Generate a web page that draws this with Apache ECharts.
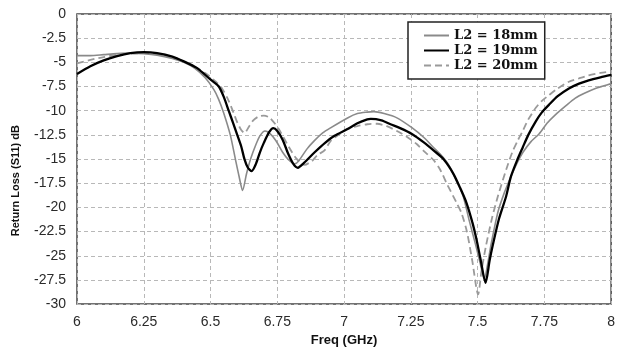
<!DOCTYPE html>
<html>
<head>
<meta charset="utf-8">
<script src="https://cdn.jsdelivr.net/npm/echarts@6/dist/echarts.min.js"></script>
<style>
  html, body { margin: 0; padding: 0; background: #fff; }
  #chart { width: 618px; height: 352px; }
</style>
</head>
<body>
<div id="chart"></div>
<script>
// Return loss (S11) versus frequency for three values of L2
const seriesNames = ['L2 = 18mm', 'L2 = 19mm', 'L2 = 20mm'];

const freqL18 = [6.00, 6.05, 6.10, 6.15, 6.20, 6.25, 6.30, 6.357, 6.40, 6.44, 6.48, 6.512, 6.53, 6.549, 6.574, 6.593, 6.607, 6.62, 6.635, 6.65, 6.67, 6.685, 6.704, 6.72, 6.745, 6.77, 6.79, 6.815, 6.83, 6.86, 6.889, 6.92, 6.951, 7.013, 7.05, 7.087, 7.112, 7.15, 7.198, 7.254, 7.30, 7.335, 7.37, 7.396, 7.42, 7.446, 7.47, 7.493, 7.51, 7.525, 7.54, 7.55, 7.576, 7.60, 7.625, 7.65, 7.67, 7.70, 7.73, 7.76, 7.792, 7.83, 7.866, 7.90, 7.941, 7.97, 8.00];
const s11L18 = [-4.3, -4.3, -4.2, -4.1, -4.05, -4.1, -4.25, -4.6, -5.0, -5.6, -6.6, -7.8, -8.8, -10.2, -12.5, -15.0, -16.8, -18.25, -16.5, -15.0, -13.5, -12.6, -12.1, -12.3, -13.1, -14.3, -15.0, -15.5, -15.2, -14.0, -13.1, -12.3, -11.75, -10.75, -10.3, -10.15, -10.1, -10.3, -10.74, -11.76, -12.8, -13.8, -14.8, -15.8, -17.2, -18.85, -21.5, -23.9, -25.8, -27.4, -25.5, -23.9, -20.5, -18.5, -16.8, -15.3, -14.3, -13.2, -12.4, -11.3, -10.4, -9.5, -8.7, -8.2, -7.7, -7.45, -7.2];

const freqL19 = [6.00, 6.05, 6.10, 6.15, 6.20, 6.25, 6.30, 6.357, 6.40, 6.45, 6.48, 6.51, 6.531, 6.55, 6.568, 6.585, 6.60, 6.615, 6.627, 6.64, 6.654, 6.67, 6.685, 6.70, 6.72, 6.735, 6.75, 6.77, 6.79, 6.81, 6.827, 6.85, 6.89, 6.93, 6.964, 7.013, 7.05, 7.087, 7.10, 7.14, 7.174, 7.21, 7.254, 7.30, 7.335, 7.372, 7.409, 7.435, 7.458, 7.48, 7.495, 7.51, 7.53, 7.545, 7.557, 7.58, 7.607, 7.625, 7.65, 7.669, 7.69, 7.718, 7.74, 7.767, 7.80, 7.842, 7.88, 7.916, 7.96, 8.00];
const s11L19 = [-6.2, -5.4, -4.8, -4.35, -4.05, -3.95, -4.05, -4.4, -4.9, -5.6, -6.3, -7.0, -7.5, -8.6, -10.0, -11.3, -12.5, -13.7, -15.0, -15.9, -16.25, -15.5, -14.3, -13.3, -12.2, -11.8, -12.1, -13.0, -14.4, -15.5, -15.9, -15.4, -14.3, -13.3, -12.6, -11.9, -11.3, -10.9, -10.85, -11.0, -11.4, -11.8, -12.4, -13.3, -14.1, -15.0, -16.5, -18.0, -19.5, -21.5, -23.2, -25.2, -27.8, -25.5, -23.9, -21.2, -18.85, -16.8, -15.0, -13.8, -12.5, -11.1, -10.2, -9.4, -8.5, -7.7, -7.2, -6.86, -6.55, -6.3];

const freqL20 = [6.00, 6.05, 6.10, 6.15, 6.20, 6.25, 6.30, 6.357, 6.40, 6.45, 6.49, 6.52, 6.543, 6.565, 6.586, 6.60, 6.615, 6.627, 6.645, 6.66, 6.68, 6.70, 6.72, 6.74, 6.76, 6.79, 6.82, 6.852, 6.88, 6.90, 6.927, 6.951, 7.013, 7.05, 7.087, 7.124, 7.16, 7.198, 7.235, 7.272, 7.30, 7.335, 7.36, 7.384, 7.421, 7.44, 7.46, 7.48, 7.502, 7.515, 7.532, 7.555, 7.576, 7.607, 7.63, 7.65, 7.669, 7.69, 7.718, 7.74, 7.767, 7.80, 7.842, 7.88, 7.916, 7.96, 8.00];
const s11L20 = [-5.1, -4.75, -4.45, -4.25, -4.1, -4.05, -4.15, -4.45, -4.9, -5.6, -6.3, -7.0, -7.7, -8.8, -10.2, -11.2, -12.0, -12.3, -11.6, -11.0, -10.6, -10.5, -10.7, -11.3, -12.1, -13.6, -14.9, -15.6, -15.2, -14.6, -14.1, -13.1, -11.9, -11.6, -11.4, -11.35, -11.6, -12.1, -12.7, -13.45, -14.2, -15.1, -16.1, -17.5, -19.5, -20.6, -22.5, -25.5, -29.0, -26.5, -23.9, -21.0, -18.85, -16.1, -14.3, -13.1, -12.1, -10.9, -9.7, -9.0, -8.4, -7.7, -7.0, -6.65, -6.35, -6.1, -5.95];

function pairs(xs, ys) {
  return xs.map((x, i) => [x, ys[i]]);
}

const chart = echarts.init(document.getElementById('chart'), null, { renderer: 'canvas' });

const gridLine = { show: true, lineStyle: { color: '#b8b8b8', type: [4, 3], width: 1 } };
const tickFont = { color: '#2a2a2a', fontSize: 14, fontFamily: 'Liberation Sans, Arial, sans-serif' };

chart.setOption({
  backgroundColor: '#ffffff',
  animation: false,
  grid: {
    left: 77, right: 2, top: 14, bottom: 42,
    show: true, borderColor: '#444', borderWidth: 1.5, backgroundColor: '#ffffff'
  },
  xAxis: {
    type: 'value', min: 6, max: 8, interval: 0.25,
    name: 'Freq (GHz)', nameLocation: 'middle', nameGap: 22,
    nameTextStyle: { fontSize: 13, fontWeight: 'bold', color: '#111', fontFamily: 'Liberation Sans, Arial, sans-serif' },
    axisLine: { show: false }, axisTick: { show: false },
    axisLabel: Object.assign({ margin: 11 }, tickFont),
    splitLine: gridLine
  },
  yAxis: {
    type: 'value', min: -30, max: 0, interval: 2.5,
    axisLine: { show: false }, axisTick: { show: false },
    axisLabel: Object.assign({ margin: 11 }, tickFont),
    splitLine: gridLine
  },
  graphic: [{
    type: 'text', left: 10, top: 125, rotation: Math.PI / 2,
    style: {
      text: 'Return Loss (S11) dB', fill: '#111',
      font: 'bold 11px "Liberation Sans", Arial, sans-serif'
    }
  }],
  legend: {
    orient: 'vertical', left: 408, top: 22,
    data: seriesNames,
    backgroundColor: '#ffffff', borderColor: '#222', borderWidth: 1.5, borderRadius: 0,
    padding: [7, 7, 7, 15], itemGap: 2, itemWidth: 25, itemHeight: 14,
    // line-only keys: the marker drawn over each key line is made fully transparent
    itemStyle: { color: 'rgba(0,0,0,0)', borderColor: 'rgba(0,0,0,0)', borderWidth: 0 },
    textStyle: { fontSize: 13, fontWeight: 'bold', color: '#111', fontFamily: 'DejaVu Serif' }
  },
  series: [
    {
      name: seriesNames[0], type: 'line', data: pairs(freqL18, s11L18),
      showSymbol: false, symbol: 'none', smooth: 0.25, z: 3,
      lineStyle: { color: '#8a8a8a', width: 1.6 }, itemStyle: { color: '#8a8a8a' }
    },
    {
      name: seriesNames[1], type: 'line', data: pairs(freqL19, s11L19),
      showSymbol: false, symbol: 'none', smooth: 0.25, z: 4,
      lineStyle: { color: '#000000', width: 2.3 }, itemStyle: { color: '#000000' }
    },
    {
      name: seriesNames[2], type: 'line', data: pairs(freqL20, s11L20),
      showSymbol: false, symbol: 'none', smooth: 0.25, z: 2,
      lineStyle: { color: '#9a9a9a', width: 1.8, type: [7, 4] }, itemStyle: { color: '#9a9a9a' }
    }
  ]
});
</script>
</body>
</html>
